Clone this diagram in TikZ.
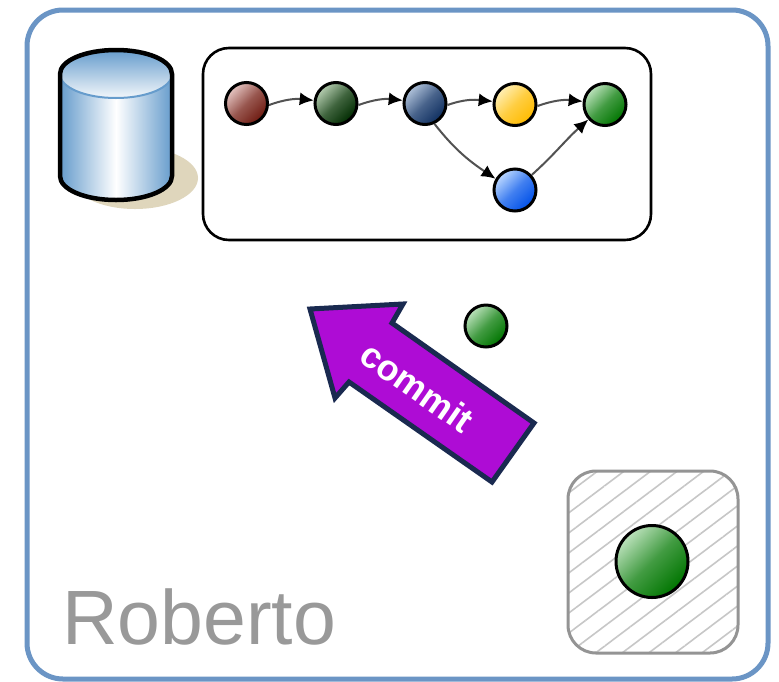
\documentclass[tikz,border=0pt]{standalone}
\usepackage{fontspec}
\setmainfont{Liberation Sans}
\usetikzlibrary{arrows.meta,patterns.meta}
\definecolor{frameblue}{HTML}{6B95C5}
\definecolor{cylblue}{HTML}{669CCC}
\definecolor{shadowtan}{HTML}{DFD6BC}
\definecolor{arrowfill}{HTML}{AE0CD5}
\definecolor{arrownavy}{HTML}{1A2A50}
\definecolor{redL}{HTML}{E5C5C2}\definecolor{redD}{HTML}{6E1A10}
\definecolor{dgreenL}{HTML}{B5CDB0}\definecolor{dgreenD}{HTML}{002B00}
\definecolor{navyL}{HTML}{B0C2DA}\definecolor{navyD}{HTML}{0F2F60}
\definecolor{yelL}{HTML}{FFEFB5}\definecolor{yelD}{HTML}{FFBB00}
\definecolor{grnL}{HTML}{BCE2BC}\definecolor{grnD}{HTML}{007500}
\definecolor{bluL}{HTML}{BCD8FF}\definecolor{bluD}{HTML}{0050E8}
\tikzset{
  ball/.style 2 args={circle,draw=black,line width=3pt,minimum size=42pt,inner sep=0pt,outer sep=1.5pt,
    top color=#1,bottom color=#2,middle color=#1!35!#2,shading angle=45},
  link/.style={draw=black!68,line width=2pt,-{Latex[black,length=14pt,width=13pt]}},
}
\begin{document}
\begin{tikzpicture}[x=1pt,y=-1pt]
\useasboundingbox (0,0) rectangle (779,681);
\fill[white] (0,0) rectangle (779,681);
% outer frame
\draw[frameblue,line width=5pt,rounded corners=36pt] (27,10) rectangle (768,679);
% cylinder shadow
\fill[shadowtan] (135,178) ellipse [x radius=63pt,y radius=31pt];
% cylinder body
\shade[left color=cylblue,right color=cylblue,middle color=white]
  (60,74) -- (60,176) .. controls (60,189.5) and (85,200) .. (116,200)
  .. controls (147,200) and (172,189.5) .. (172,176) -- (172,74) -- cycle;
% cylinder top
\shade[top color=cylblue,bottom color=white!92!cylblue]
  (60,74) .. controls (60,60.5) and (85,50) .. (116,50)
  .. controls (147,50) and (172,60.5) .. (172,74)
  .. controls (172,87.5) and (147,98) .. (116,98)
  .. controls (85,98) and (60,87.5) .. (60,74) -- cycle;
\draw[cylblue,line width=2pt]
  (60,74) .. controls (60,87.5) and (85,98) .. (116,98)
  .. controls (147,98) and (172,87.5) .. (172,74);
\draw[black,line width=4.5pt]
  (60,74) -- (60,176) .. controls (60,189.5) and (85,200) .. (116,200)
  .. controls (147,200) and (172,189.5) .. (172,176) -- (172,74)
  .. controls (172,60.5) and (147,50) .. (116,50)
  .. controls (85,50) and (60,60.5) .. (60,74) -- cycle;
% history box
\draw[black,line width=2.6pt,rounded corners=26pt] (203,48) rectangle (651,240);
% commits
\node[ball={redL}{redD}] (c1) at (246.5,103.5) {};
\node[ball={dgreenL}{dgreenD}] (c2) at (336,103.5) {};
\node[ball={navyL}{navyD}] (c3) at (425,103.5) {};
\node[ball={yelL}{yelD}] (c4) at (515,104.5) {};
\node[ball={grnL}{grnD}] (c5) at (605,104.5) {};
\node[ball={bluL}{bluD}] (c6) at (515,190) {};
\draw[link] (c1.-4) to[out=20,in=174] (c2.172);
\draw[link] (c2.-4) to[out=20,in=174] (c3.172);
\draw[link] (c3.-4) to[out=20,in=174] (c4.172);
\draw[link] (c4.-4) to[out=20,in=174] (c5.172);
\draw[link] (c3.-65) to[out=-52,in=146] (c6.150);
\draw[link] (c6.42) to[out=42,in=222] (c5.222);
% commit arrow
\draw[arrownavy,fill=arrowfill,line width=5pt,line join=miter]
  (310,309) -- (403,304) -- (392,323) -- (534,423) -- (492,482) -- (349,382) -- (335,398) -- cycle;
\node[white,font=\fontsize{36}{36}\selectfont\bfseries,rotate=-35] (commitlabel) at (417,387) {commit};
% small ball
\node[ball={grnL}{grnD}] (staged) at (486,326) {};
% hatched box
\fill[white,rounded corners=28pt] (568,471) rectangle (738,653);
\fill[pattern={Lines[angle=37,distance=16pt,line width=1.6pt]},pattern color=black!22,rounded corners=28pt] (568,471) rectangle (738,653);
\draw[black!42,line width=3pt,rounded corners=28pt] (568,471) rectangle (738,653);
\node[ball={grnL}{grnD},minimum size=72pt] (work) at (652,561.5) {};
% label
\node[black!40,font=\fontsize{77}{77}\selectfont,anchor=base west,inner sep=0pt] (owner) at (62,644) {Roberto};
\end{tikzpicture}
\end{document}
